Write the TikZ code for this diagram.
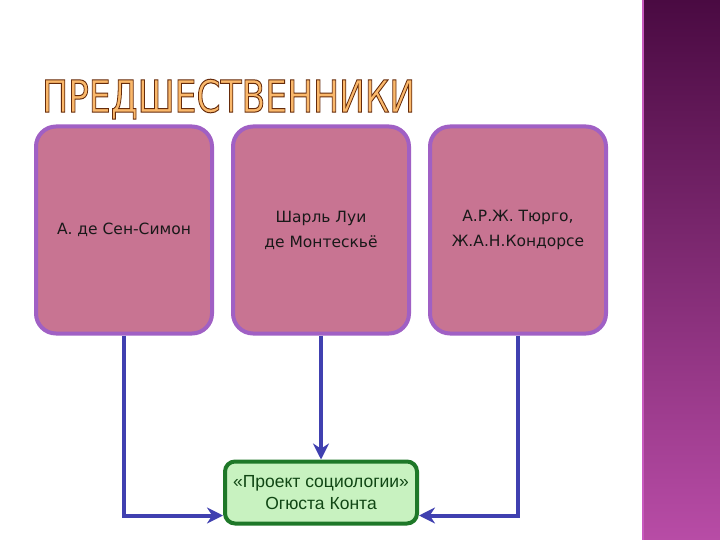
\documentclass[tikz,border=0pt]{standalone}
\usepackage{fontspec}
\setmainfont{DejaVu Sans}
\newfontfamily\arialfont{Liberation Sans}
\usepackage{graphicx}
\usetikzlibrary{arrows.meta,positioning}

\definecolor{boxfill}{RGB}{200,116,146}
\definecolor{boxborder}{RGB}{160,96,196}
\definecolor{comtefill}{RGB}{200,242,192}
\definecolor{comteborder}{RGB}{30,120,40}
\definecolor{comtetext}{RGB}{16,70,20}
\definecolor{linkblue}{RGB}{64,64,176}
\definecolor{sidedark}{RGB}{74,10,66}
\definecolor{sidelight}{RGB}{184,76,166}
\definecolor{sideedge}{RGB}{200,90,190}

% outlined title letters
\newcommand{\outlinetext}[1]{\special{pdf:code q 2 Tr 0.9 w 0.4 0.17 0.04 RG 0.98 0.72 0.42 rg}#1\special{pdf:code Q}}

\begin{document}
\begin{tikzpicture}[x=1pt,y=-1pt,
    namebox/.style={draw=boxborder, fill=boxfill, line width=4pt, rounded corners=20pt,
        minimum width=176pt, minimum height=207pt, align=center,
        font=\fontsize{15.5}{25}\selectfont, text=black!90},
    comtebox/.style={draw=comteborder, fill=comtefill, line width=4pt, rounded corners=10pt,
        minimum width=192pt, minimum height=62pt, align=center,
        font=\arialfont\fontsize{17.5}{22}\selectfont, text=comtetext},
    link/.style={draw=linkblue, line width=4pt, -{Stealth[length=16pt,width=16pt]}}]
    \useasboundingbox (0,0) rectangle (720,540);
    % side band
    \shade[top color=sidedark, bottom color=sidelight] (642,0) rectangle (720,540);
    \draw[sideedge, line width=1.5pt] (643,0) -- (643,540);
    % title
    \node[inner sep=0pt, anchor=north west] (title) at (42,79)
        {\resizebox{373pt}{33pt}{\fontsize{40}{40}\selectfont\outlinetext{ПРЕДШЕСТВЕННИКИ}}};
    % predecessors
    \node[namebox] (simon) at (124,230) {А. де Сен-Симон};
    \node[namebox, right=17pt of simon] (montesquieu) {Шарль Луи\\де Монтескьё};
    \node[namebox, right=17pt of montesquieu] (turgot) {А.Р.Ж. Тюрго,\\Ж.А.Н.Кондорсе};
    \node[comtebox, below=124pt of montesquieu] (comte) {«Проект социологии»\\Огюста Конта};
    % arrows
    \draw[link] (simon.south) |- ([yshift=-23pt]comte.west);
    \draw[link] (montesquieu.south) -- (comte.north);
    \draw[link] (turgot.south) |- ([yshift=-23pt]comte.east);
\end{tikzpicture}
\end{document}
